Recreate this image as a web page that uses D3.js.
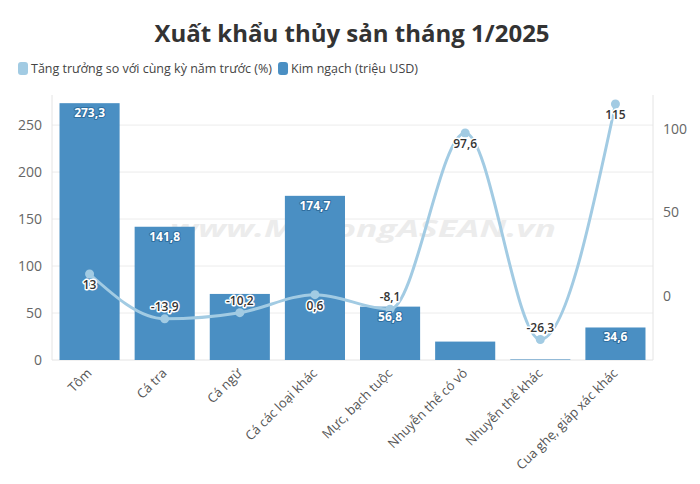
<!DOCTYPE html>
<html>
<head>
<meta charset="utf-8">
<script src="https://cdn.jsdelivr.net/npm/d3@7"></script>
<style>
  body { margin: 0; background: #fff; font-family: 'Open Sans', sans-serif; }
</style>
</head>
<body>
<div id="chart"></div>
<script>
const categories = [
  'Tôm',
  'Cá tra',
  'Cá ngừ',
  'Cá các loại khác',
  'Mực, bạch tuộc',
  'Nhuyễn thể có vỏ',
  'Nhuyễn thể khác',
  'Cua ghẹ, giáp xác khác'
]
// Kim ngạch (triệu USD)
const exportValues = [273.3, 141.8, 70.3, 174.7, 56.8, 19.6, 0.6, 34.6]
// Tăng trưởng so với cùng kỳ năm trước (%)
const growthValues = [13, -13.9, -10.2, 0.6, -8.1, 97.6, -26.3, 115]
const leftTicks = [0, 50, 100, 150, 200, 250]
const rightTicks = [0, 50, 100]

const W = 700
const H = 484
const margin = { top: 95, left: 52, right: 47, bottom: 124 }

const barColor = '#4a8fc3'
const lineColor = '#a2cbe3'

const vi = d3.formatLocale({
  decimal: ',',
  thousands: '.',
  grouping: [3],
  currency: ['', ''],
  minus: '-'
})
const fmt = v => vi.format(',')(v)

const svg = d3
  .select('#chart')
  .append('svg')
  .attr('width', W)
  .attr('height', H)

svg
  .append('text')
  .attr('x', 352)
  .attr('y', 42)
  .attr('text-anchor', 'middle')
  .attr('font-size', 24)
  .attr('font-weight', 700)
  .attr('fill', '#333')
  .text('Xuất khẩu thủy sản tháng 1/2025')

// legend
const legendItems = [
  { label: 'Tăng trưởng so với cùng kỳ năm trước (%)', color: lineColor },
  { label: 'Kim ngạch (triệu USD)', color: barColor }
]
let lx = 18
legendItems.forEach(item => {
  const g = svg.append('g').attr('transform', `translate(${lx},62)`)
  g.append('rect')
    .attr('width', 10)
    .attr('height', 13)
    .attr('rx', 3)
    .attr('fill', item.color)
  const t = g
    .append('text')
    .attr('x', 13)
    .attr('y', 11)
    .attr('font-size', 12.5)
    .attr('fill', '#444')
    .text(item.label)
  lx += 13 + t.node().getComputedTextLength() + 6
})

const x = d3
  .scaleBand()
  .domain(categories)
  .range([margin.left, W - margin.right])
  .paddingInner(0.2)
  .paddingOuter(0.1)

const yLeft = d3
  .scaleLinear()
  .domain([0, 282])
  .range([H - margin.bottom, margin.top])

const yRight = d3
  .scaleLinear()
  .domain([-38.6, 120.4])
  .range([H - margin.bottom, margin.top])

const plot = svg.append('g')

// gridlines
plot
  .selectAll('.grid')
  .data(leftTicks.slice(1))
  .enter()
  .append('line')
  .attr('x1', margin.left)
  .attr('x2', W - margin.right)
  .attr('y1', d => yLeft(d))
  .attr('y2', d => yLeft(d))
  .attr('stroke', '#ececec')

// watermark
plot
  .append('text')
  .attr('x', 170)
  .attr('y', 237)
  .attr('font-size', 24)
  .attr('font-weight', 700)
  .attr('font-style', 'italic')
  .attr('fill', '#ececec')
  .attr('textLength', 386)
  .attr('lengthAdjust', 'spacingAndGlyphs')
  .text('www.MekongASEAN.vn')

// axis lines
;[margin.left, W - margin.right].forEach(xx => {
  plot
    .append('line')
    .attr('x1', xx)
    .attr('x2', xx)
    .attr('y1', margin.top)
    .attr('y2', H - margin.bottom)
    .attr('stroke', '#e4e4e4')
})
plot
  .append('line')
  .attr('x1', margin.left)
  .attr('x2', W - margin.right)
  .attr('y1', H - margin.bottom)
  .attr('y2', H - margin.bottom)
  .attr('stroke', '#e4e4e4')

const leftAxis = d3
  .axisLeft(yLeft)
  .tickValues(leftTicks)
  .tickSize(0)
  .tickPadding(10)
svg
  .append('g')
  .attr('transform', `translate(${margin.left},0)`)
  .call(leftAxis)
  .call(g => g.select('.domain').remove())
  .selectAll('text')
  .attr('font-size', 14)
  .attr('font-family', 'Open Sans')
  .attr('fill', '#666')

const rightAxis = d3
  .axisRight(yRight)
  .tickValues(rightTicks)
  .tickSize(0)
  .tickPadding(10)
svg
  .append('g')
  .attr('transform', `translate(${W - margin.right},0)`)
  .call(rightAxis)
  .call(g => g.select('.domain').remove())
  .selectAll('text')
  .attr('font-size', 14)
  .attr('font-family', 'Open Sans')
  .attr('fill', '#666')

// x labels
const xAxis = d3.axisBottom(x).tickSize(0).tickPadding(0)
svg
  .append('g')
  .attr('transform', `translate(0,${H - margin.bottom})`)
  .call(xAxis)
  .call(g => g.select('.domain').remove())
  .selectAll('text')
  .attr('font-size', 13)
  .attr('font-family', 'Open Sans')
  .attr('fill', '#555')
  .attr('text-anchor', 'end')
  .attr('dy', 0)
  .attr('transform', 'translate(3,14) rotate(-45)')

const data = categories.map((c, i) => ({
  cat: c,
  value: exportValues[i],
  growth: growthValues[i],
  i: i
}))

// bars
plot
  .selectAll('.bar')
  .data(data)
  .enter()
  .append('rect')
  .attr('x', d => x(d.cat))
  .attr('width', x.bandwidth())
  .attr('y', d => yLeft(d.value))
  .attr('height', d => yLeft(0) - yLeft(d.value))
  .attr('fill', barColor)

// line
const line = d3
  .line()
  .x(d => x(d.cat) + x.bandwidth() / 2)
  .y(d => yRight(d.growth))
  .curve(d3.curveMonotoneX)

plot
  .append('path')
  .datum(data)
  .attr('d', line)
  .attr('fill', 'none')
  .attr('stroke', lineColor)
  .attr('stroke-width', 3)

plot
  .selectAll('.pt')
  .data(data)
  .enter()
  .append('circle')
  .attr('cx', d => x(d.cat) + x.bandwidth() / 2)
  .attr('cy', d => yRight(d.growth))
  .attr('r', 4.5)
  .attr('fill', lineColor)

// line labels: below a local peak, above otherwise
function isPeak(i) {
  const v = growthValues[i]
  const prev = i > 0 ? growthValues[i - 1] : -Infinity
  const next = i < growthValues.length - 1 ? growthValues[i + 1] : -Infinity
  return v > prev && v > next
}

const lineLabels = plot
  .selectAll('.ll')
  .data(data)
  .enter()
  .append('text')
  .attr('x', d => x(d.cat) + x.bandwidth() / 2)
  .attr('y', d => yRight(d.growth) + (isPeak(d.i) ? 15 : -8))
  .attr('text-anchor', 'middle')
  .attr('font-size', 12)
  .attr('font-weight', 600)
  .attr('fill', '#333')
  .attr('stroke', '#fff')
  .attr('stroke-width', 3)
  .attr('stroke-linejoin', 'round')
  .attr('paint-order', 'stroke')
  .text(d => fmt(d.growth))

const lineBoxes = lineLabels.nodes().map(n => n.getBBox())

// bar labels, dropped when they collide or do not fit
const barLabels = plot
  .selectAll('.bl')
  .data(data)
  .enter()
  .insert('text', function() {
    return lineLabels.node()
  })
  .attr('x', d => x(d.cat) + x.bandwidth() / 2)
  .attr('y', d => yLeft(d.value) + 14)
  .attr('text-anchor', 'middle')
  .attr('font-size', 12)
  .attr('font-weight', 700)
  .attr('fill', '#fff')
  .attr('stroke', '#2f6e9f')
  .attr('stroke-width', 2)
  .attr('stroke-linejoin', 'round')
  .attr('paint-order', 'stroke')
  .text(d => fmt(d.value))

barLabels.each(function(d) {
  const b = this.getBBox()
  const h = yLeft(0) - yLeft(d.value)
  const hit = lineBoxes.some(
    o =>
      b.x < o.x + o.width &&
      o.x < b.x + b.width &&
      b.y < o.y + o.height &&
      o.y < b.y + b.height
  )
  if (hit || h < 24) d3.select(this).remove()
})
</script>
</body>
</html>
